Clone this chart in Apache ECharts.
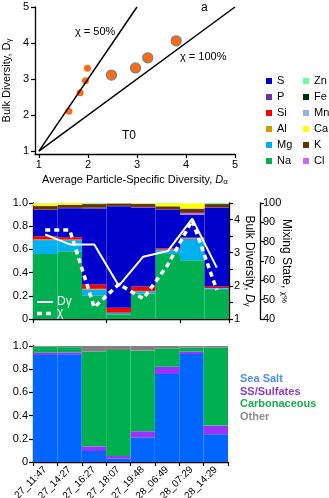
<!DOCTYPE html>
<html><head><meta charset="utf-8">
<script src="https://cdn.jsdelivr.net/npm/echarts@6/dist/echarts.min.js"></script>
<style>html,body{margin:0;padding:0;background:#fff}#c{width:329px;height:498px}</style>
</head><body><div id="c"></div>
<script>
// ---------- DATA ----------
// Panel a
const chi50Line = [[1, 1], [3, 5]];
const chi100Line = [[1, 1], [5, 5]];
const pointsSmall = [[1.61, 2.11], [1.84, 2.62], [1.95, 2.95], [1.99, 3.30]];
const pointsLarge = [[2.48, 3.11], [2.97, 3.31], [3.22, 3.59], [3.80, 4.06]];
const axisTicksA = [1, 2, 3, 4, 5];

// Samples (panels c and e)
const samples = ['27_11:47', '27_14:27', '27_16:27', '27_18:07', '27_19:48', '28_06:49', '28_07:29', '28_14:29'];

// Panel c: element fractions (stack order bottom -> top)
const Na = [0.560, 0.585, 0.200, 0.040, 0.220, 0.560, 0.507, 0.250];
const Mg = [0.120, 0.095, 0.055, 0.012, 0.020, 0.033, 0.185, 0.014];
const Al = [0.008, 0.005, 0.005, 0.002, 0.002, 0.004, 0.003, 0.003];
const Si = [0.025, 0.020, 0.038, 0.043, 0.038, 0.010, 0.007, 0.014];
const S  = [0.227, 0.250, 0.652, 0.875, 0.680, 0.336, 0.198, 0.676];
const P  = [0.003, 0.003, 0.010, 0.003, 0.006, 0.005, 0.000, 0.006];
const Cl = [0.000, 0.000, 0.000, 0.000, 0.000, 0.000, 0.015, 0.000];
const K  = [0.030, 0.025, 0.030, 0.018, 0.025, 0.022, 0.035, 0.027];
const Fe = [0.003, 0.002, 0.002, 0.003, 0.002, 0.002, 0.002, 0.002];
const Ca = [0.020, 0.015, 0.003, 0.002, 0.003, 0.025, 0.045, 0.000];
const Zn = [0.002, 0.000, 0.005, 0.000, 0.000, 0.006, 0.000, 0.008];
const Mn = [0.000, 0.000, 0.000, 0.000, 0.000, 0.000, 0.000, 0.000];
const bulkDiversity = [3.55, 3.25, 3.25, 2.00, 2.88, 3.05, 4.03, 2.55];
const mixingState = [86, 86, 46, 58, 50.5, 68, 91, 55];

// Panel e: particle class fractions
const seaSalt = [0.922, 0.928, 0.095, 0.029, 0.210, 0.758, 0.931, 0.239];
const ssSulfates = [0.020, 0.017, 0.040, 0.023, 0.055, 0.063, 0.020, 0.075];
const carbonaceous = [0.052, 0.045, 0.816, 0.913, 0.695, 0.159, 0.035, 0.672];
const other = [0.006, 0.010, 0.049, 0.035, 0.040, 0.020, 0.014, 0.014];

// ---------- STYLE ----------
const FONT = "'Liberation Sans', Arial, sans-serif";
const elemColors = {
  S: '#0000CC', P: '#7030A0', Si: '#FF0000', Al: '#CC9900', Mg: '#00B0F0', Na: '#00B050',
  Zn: '#66FF99', Fe: '#003300', Mn: '#8DB4E2', Ca: '#FFFF00', K: '#663300', Cl: '#CC66FF'
};
const elemData = { Na, Mg, Al, Si, S, P, Cl, K, Fe, Ca, Zn, Mn };
const stackOrder = ['Na', 'Mg', 'Al', 'Si', 'S', 'P', 'Cl', 'K', 'Fe', 'Ca', 'Zn', 'Mn'];

const axLine = { show: true, lineStyle: { color: '#000', width: 1.3 } };
const axTick = { show: true, inside: false, length: 4, lineStyle: { color: '#000', width: 1.2 } };
const axLabel = { color: '#000', fontSize: 11, fontFamily: FONT };
const noSplit = { show: false };

const series = [];
// panel a
series.push({ type: 'line', xAxisIndex: 0, yAxisIndex: 0, data: chi50Line, symbol: 'none',
  lineStyle: { color: '#000', width: 1.5 }, silent: true });
series.push({ type: 'line', xAxisIndex: 0, yAxisIndex: 0, data: chi100Line, symbol: 'none',
  lineStyle: { color: '#000', width: 1.5 }, silent: true });
series.push({ type: 'scatter', xAxisIndex: 0, yAxisIndex: 0, data: pointsSmall, symbolSize: 7,
  itemStyle: { color: '#FF6A10', opacity: 1 } });
series.push({ type: 'scatter', xAxisIndex: 0, yAxisIndex: 0, data: pointsLarge, symbolSize: 10,
  itemStyle: { color: '#FF6A10', borderColor: '#808080', borderWidth: 1.3, opacity: 1 } });
// panel c bars
stackOrder.forEach(k => {
  series.push({ name: k, type: 'bar', xAxisIndex: 1, yAxisIndex: 1, stack: 'c',
    data: elemData[k], barCategoryGap: '0%', itemStyle: { color: elemColors[k] } });
});
series.push({ name: 'Dγ', type: 'line', xAxisIndex: 1, yAxisIndex: 2, data: bulkDiversity,
  symbol: 'none', lineStyle: { color: '#fff', width: 2 }, itemStyle: { color: '#fff' }, z: 5 });
series.push({ name: 'χ', type: 'line', xAxisIndex: 1, yAxisIndex: 3, data: mixingState,
  symbol: 'none', lineStyle: { color: '#fff', width: 3.5, type: [5, 4] }, itemStyle: { color: '#fff' }, z: 5 });
// panel e bars
[['Sea Salt', seaSalt, '#0066FF'], ['SS/Sulfates', ssSulfates, '#9933FF'],
 ['Carbonaceous', carbonaceous, '#00B050'], ['Other', other, '#808080']].forEach(([n, d, c]) => {
  series.push({ name: n, type: 'bar', xAxisIndex: 2, yAxisIndex: 4, stack: 'e', data: d,
    barCategoryGap: '0%', itemStyle: { color: c } });
});

const subRich = {
  n: { fontSize: 11, fontFamily: FONT, color: '#000' },
  d: { fontSize: 11, fontFamily: FONT, color: '#000', fontStyle: 'italic' },
  s: { fontSize: 8, fontFamily: FONT, color: '#000', verticalAlign: 'bottom', padding: [4, 0, 0, 0] }
};
const rich12 = Object.assign({}, subRich, {
  n: { fontSize: 12, fontFamily: FONT, color: '#000' },
  d: { fontSize: 12, fontFamily: FONT, color: '#000', fontStyle: 'italic' }
});

const frac = v => (v === 0 ? '0' : v.toFixed(1));

const option = {
  animation: false,
  backgroundColor: '#fff',
  textStyle: { fontFamily: FONT },
  grid: [
    { left: 35, top: 7, width: 200, height: 147, outerBoundsMode: 'none', containLabel: false },
    { left: 33, top: 203, width: 196, height: 116, outerBoundsMode: 'none', containLabel: false },
    { left: 33, top: 346, width: 195, height: 116, outerBoundsMode: 'none', containLabel: false }
  ],
  xAxis: [
    { type: 'value', gridIndex: 0, min: 0.92, max: 5,
      axisLine: axLine, axisTick: Object.assign({}, axTick, { customValues: axisTicksA }),
      axisLabel: Object.assign({}, axLabel, { customValues: axisTicksA, margin: 5 }),
      splitLine: noSplit, nameMoveOverlap: false,
      name: '{n|Average Particle-Specific Diversity, }{d|D}{s|α}', nameLocation: 'middle', nameGap: 20,
      nameTextStyle: { rich: subRich } },
    { type: 'category', gridIndex: 1, data: samples, axisLine: axLine,
      axisTick: axTick, axisLabel: { show: false }, splitLine: noSplit },
    { type: 'category', gridIndex: 2, data: samples, axisLine: axLine,
      axisTick: axTick, axisLabel: Object.assign({}, axLabel, { fontSize: 10, rotate: 45, margin: 6, interval: 0 }),
      splitLine: noSplit }
  ],
  yAxis: [
    { type: 'value', gridIndex: 0, min: 0.92, max: 5,
      axisLine: axLine, axisTick: Object.assign({}, axTick, { customValues: axisTicksA }),
      axisLabel: Object.assign({}, axLabel, { customValues: axisTicksA, margin: 6 }),
      splitLine: noSplit, nameMoveOverlap: false,
      name: '{n|Bulk Diversity, D}{s|γ}', nameLocation: 'middle', nameGap: 22,
      nameTextStyle: { rich: subRich } },
    { type: 'value', gridIndex: 1, min: 0, max: 1, interval: 0.2, position: 'left',
      axisLine: axLine, axisTick: axTick,
      axisLabel: Object.assign({}, axLabel, { formatter: frac, margin: 5 }), splitLine: noSplit },
    { type: 'value', gridIndex: 1, min: 1, max: 4.5, interval: 0.5, position: 'right',
      axisLine: axLine, axisTick: axTick,
      axisLabel: Object.assign({}, axLabel, { margin: 5, formatter: v => (Number.isInteger(v) && v < 4.5 ? String(v) : '') }),
      splitLine: noSplit, nameMoveOverlap: false,
      name: '{n|Bulk Diversity, }{d|D}{s|γ}', nameLocation: 'middle', nameGap: 14, nameRotate: -90,
      nameTextStyle: { rich: rich12 } },
    { type: 'value', gridIndex: 1, min: 40, max: 100, interval: 10, position: 'right', offset: 31,
      axisLine: axLine, axisTick: axTick,
      axisLabel: Object.assign({}, axLabel, { margin: 3 }), splitLine: noSplit, nameMoveOverlap: false,
      name: '{n|Mixing State, }{s|χ%}', nameLocation: 'middle', nameGap: 20, nameRotate: -90,
      nameTextStyle: { rich: rich12 } },
    { type: 'value', gridIndex: 2, min: 0, max: 1, interval: 0.2,
      axisLine: axLine, axisTick: axTick,
      axisLabel: Object.assign({}, axLabel, { formatter: frac, margin: 5 }), splitLine: noSplit }
  ],
  legend: [
    { data: ['S', 'P', 'Si', 'Al', 'Mg', 'Na'], orient: 'vertical', left: 261, top: 70,
      icon: 'rect', itemWidth: 6, itemHeight: 6, itemGap: 4, selectedMode: false,
      textStyle: { fontSize: 11, fontFamily: FONT, color: '#000', lineHeight: 12 } },
    { data: ['Zn', 'Fe', 'Mn', 'Ca', 'K', 'Cl'], orient: 'vertical', left: 298, top: 70,
      icon: 'rect', itemWidth: 6, itemHeight: 6, itemGap: 4, selectedMode: false,
      textStyle: { fontSize: 11, fontFamily: FONT, color: '#000', lineHeight: 12 } }
  ],
  graphic: [
    { type: 'text', left: 201, top: 2, style: { text: 'a', fontSize: 12, fontFamily: FONT, fill: '#000' } },
    { type: 'text', left: 75, top: 26, style: { text: 'χ = 50%', fontSize: 11, fontFamily: FONT, fill: '#000' } },
    { type: 'text', left: 180, top: 51, style: { text: 'χ = 100%', fontSize: 11, fontFamily: FONT, fill: '#000' } },
    { type: 'text', left: 122, top: 130, style: { text: 'T0', fontSize: 12, fontFamily: FONT, fill: '#000' } },
    { type: 'text', left: 213, top: 216, style: { text: 'c', fontSize: 12, fontFamily: FONT, fill: '#fff' } },
    // panel c line legend
    { type: 'line', shape: { x1: 37, y1: 302, x2: 53, y2: 302 }, style: { stroke: '#fff', lineWidth: 2 }, z: 100 },
    { type: 'line', shape: { x1: 37, y1: 313.5, x2: 54, y2: 313.5 }, style: { stroke: '#fff', lineWidth: 3.5, lineDash: [5, 4] }, z: 100 },
    { type: 'text', left: 57, top: 296, z: 100, style: { text: 'Dγ', fontSize: 12, fontFamily: FONT, fill: '#fff' } },
    { type: 'text', left: 57, top: 307, z: 100, style: { text: 'χ', fontSize: 12, fontFamily: FONT, fill: '#fff' } },
    { type: 'text', left: 212, top: 357, style: { text: 'e', fontSize: 13, fontFamily: FONT, fill: '#000' } },
    { type: 'text', left: 240, top: 373, style: { text: 'Sea Salt', fontSize: 11, fontWeight: 'bold', fontFamily: FONT, fill: '#4A90F0' } },
    { type: 'text', left: 240, top: 386, style: { text: 'SS/Sulfates', fontSize: 11, fontWeight: 'bold', fontFamily: FONT, fill: '#8A3CD6' } },
    { type: 'text', left: 240, top: 398, style: { text: 'Carbonaceous', fontSize: 11, fontWeight: 'bold', fontFamily: FONT, fill: '#14AE4E' } },
    { type: 'text', left: 240, top: 411, style: { text: 'Other', fontSize: 11, fontWeight: 'bold', fontFamily: FONT, fill: '#8C8C8C' } }
  ],
  series
};

const chart = echarts.init(document.getElementById('c'), null, { renderer: 'canvas' });
chart.setOption(option);
</script>
</body></html>
